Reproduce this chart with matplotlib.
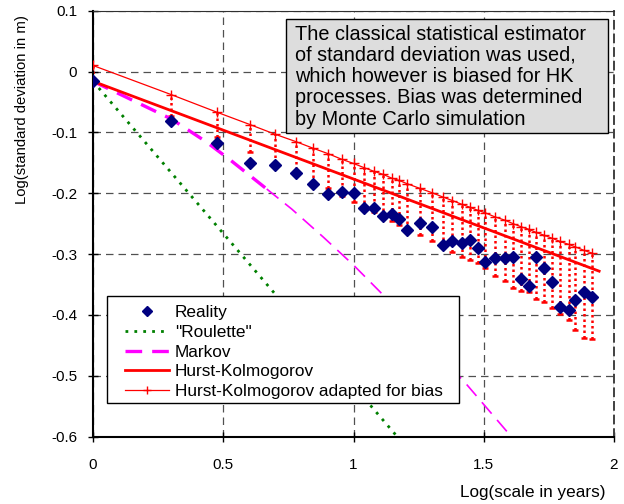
import matplotlib
matplotlib.use('Agg')
import matplotlib.pyplot as plt
from matplotlib.patches import Rectangle

plt.rcParams['font.family'] = ['Liberation Sans', 'DejaVu Sans']

# log10 of time scale (years) at which the std was computed
log_scale = [0.000, 0.301, 0.477, 0.602, 0.699, 0.778, 0.845, 0.903, 0.954, 1.000,
             1.041, 1.079, 1.114, 1.146, 1.176, 1.204, 1.255, 1.301, 1.342, 1.380,
             1.415, 1.447, 1.477, 1.505, 1.544, 1.580, 1.613, 1.643, 1.672, 1.699,
             1.732, 1.763, 1.792, 1.826, 1.851, 1.886, 1.914]

reality = [-0.016, -0.081, -0.117, -0.150, -0.154, -0.167, -0.185, -0.201, -0.198, -0.200,
           -0.224, -0.224, -0.237, -0.234, -0.242, -0.260, -0.249, -0.255, -0.285, -0.279,
           -0.282, -0.277, -0.290, -0.313, -0.306, -0.306, -0.305, -0.341, -0.352, -0.305,
           -0.323, -0.346, -0.387, -0.392, -0.376, -0.363, -0.370]

hk_adapted = [0.010, -0.038, -0.067, -0.087, -0.103, -0.115, -0.126, -0.135, -0.144, -0.151,
              -0.158, -0.164, -0.169, -0.175, -0.179, -0.184, -0.192, -0.199, -0.206, -0.212,
              -0.218, -0.223, -0.228, -0.232, -0.239, -0.244, -0.250, -0.255, -0.259, -0.264,
              -0.269, -0.274, -0.279, -0.284, -0.288, -0.294, -0.298]

# lower end of the Monte Carlo bias range
hk_lower = [-0.012, -0.073, -0.108, -0.133, -0.150, -0.170, -0.183, -0.192, -0.205, -0.215,
            -0.225, -0.231, -0.238, -0.245, -0.252, -0.258, -0.268, -0.278, -0.285, -0.296,
            -0.304, -0.310, -0.314, -0.322, -0.336, -0.344, -0.355, -0.360, -0.362, -0.374,
            -0.379, -0.388, -0.398, -0.409, -0.425, -0.437, -0.440]

hk_x = [0.0, 1.943]
hk_y = [-0.016, -0.328]

roulette_x = [0.0, 1.168]
roulette_y = [-0.016, -0.600]

markov_x = [0.0, 0.117, 0.301, 0.433, 0.526, 0.667, 0.763, 0.884, 1.0, 1.102, 1.25, 1.434, 1.606]
markov_y = [-0.016, -0.040, -0.078, -0.115, -0.145, -0.193, -0.226, -0.272, -0.318, -0.362,
            -0.428, -0.514, -0.600]

x_ticks = [0, 0.5, 1, 1.5, 2]
x_tick_labels = ['0', '0.5', '1', '1.5', '2']
y_ticks = [-0.6, -0.5, -0.4, -0.3, -0.2, -0.1, 0, 0.1]
y_tick_labels = ['-0.6', '-0.5', '-0.4', '-0.3', '-0.2', '-0.1', '0', '0.1']

note_lines = ['The classical statistical estimator',
              'of standard deviation was used,',
              'which however is biased for HK',
              'processes. Bias was determined',
              'by Monte Carlo simulation']

W, H = 624, 504
fig = plt.figure(figsize=(W / 100, H / 100), dpi=100)
ax = fig.add_axes([93 / W, 1 - 436.7 / H, (614 - 93) / W, (436.7 - 10.7) / H])

# grid
ax.set_xlim(0, 2)
ax.set_ylim(-0.6, 0.1)
ax.set_xticks(x_ticks)
ax.set_xticklabels(x_tick_labels)
ax.set_yticks(y_ticks)
ax.set_yticklabels(y_tick_labels)
ax.grid(True, color='#505050', linestyle=(0, (6, 4)), linewidth=0.9)
ax.set_axisbelow(True)

# bias range (dotted red)
ax.vlines(log_scale, hk_lower, hk_adapted, colors='red',
          linestyles=(0, (1, 1.2)), linewidth=1.8, zorder=2)
ax.plot(log_scale, hk_lower, ls='none', marker='_', ms=5, mew=1.8,
        color='red', zorder=2)

# models
l_roul, = ax.plot(roulette_x, roulette_y, color='#008000', lw=2,
                  ls=(0, (1, 2.2)), zorder=3, label='"Roulette"')
l_mark, = ax.plot(markov_x[:6], markov_y[:6], color='#ff00ff', lw=2.4,
                  ls=(0, (5, 3)), zorder=3, label='Markov')
ax.plot(markov_x[5:], markov_y[5:], color='#ff00ff', lw=1.2,
        ls=(0, (9, 5)), zorder=3)
l_hk, = ax.plot(hk_x, hk_y, color='red', lw=2, zorder=4,
                label='Hurst-Kolmogorov')
l_ad, = ax.plot(log_scale, hk_adapted, color='red', lw=0.9, marker='+',
                ms=7, mew=1, zorder=4,
                label='Hurst-Kolmogorov adapted for bias')
l_real, = ax.plot(log_scale, reality, ls='none', marker='D', ms=6,
                  color='#000080', zorder=5, label='Reality')

# spines and ticks
for s in ['left', 'bottom']:
    ax.spines[s].set_linewidth(1.5)
    ax.spines[s].set_color('black')
ax.spines['top'].set_linewidth(0.8)
ax.spines['top'].set_color('#303030')
ax.spines['right'].set_linestyle((0, (4, 3)))
ax.spines['right'].set_linewidth(1.4)
ax.spines['right'].set_color('#404040')
ax.tick_params(axis='both', direction='inout', length=7, width=1,
               labelsize=11, top=False, right=False)
ax.tick_params(axis='x', pad=12)
ax.tick_params(axis='y', pad=8)

# legend: own frame, legend itself frameless
leg_frame = Rectangle((0.0263, 0.0784), 0.7031 - 0.0263, 0.3303 - 0.0784,
                      transform=ax.transAxes, facecolor='white',
                      edgecolor='black', linewidth=1, zorder=9)
ax.add_patch(leg_frame)
leg = ax.legend(handles=[l_real, l_roul, l_mark, l_hk, l_ad],
                loc='upper left', bbox_to_anchor=(0.0614, 0.3090),
                borderaxespad=0, borderpad=0, fontsize=12.4, frameon=False,
                handlelength=44 / 17.2, handletextpad=6 / 17.2,
                labelspacing=0.27, numpoints=1, markerscale=0.8)
leg.set_zorder(10)

# note box
box = Rectangle((0.3704, 0.7129), 0.9885 - 0.3704, 0.9805 - 0.7129,
                transform=ax.transAxes, facecolor='#dddddd',
                edgecolor='black', linewidth=1, zorder=8)
ax.add_patch(box)
for i, line in enumerate(note_lines):
    fig.text(295 / W, 1 - (39.5 + i * 21.3) / H, line, fontsize=14.3,
             va='baseline', ha='left', zorder=11)

# axis labels
fig.text(22 / W, 1 - 110 / H, 'Log(standard deviation in m)', rotation=90,
         fontsize=10.7, va='center', ha='center')
fig.text(605 / W, 1 - 492 / H, 'Log(scale in years)', fontsize=12.3,
         va='center', ha='right')

fig.savefig('out.png', dpi=100)
